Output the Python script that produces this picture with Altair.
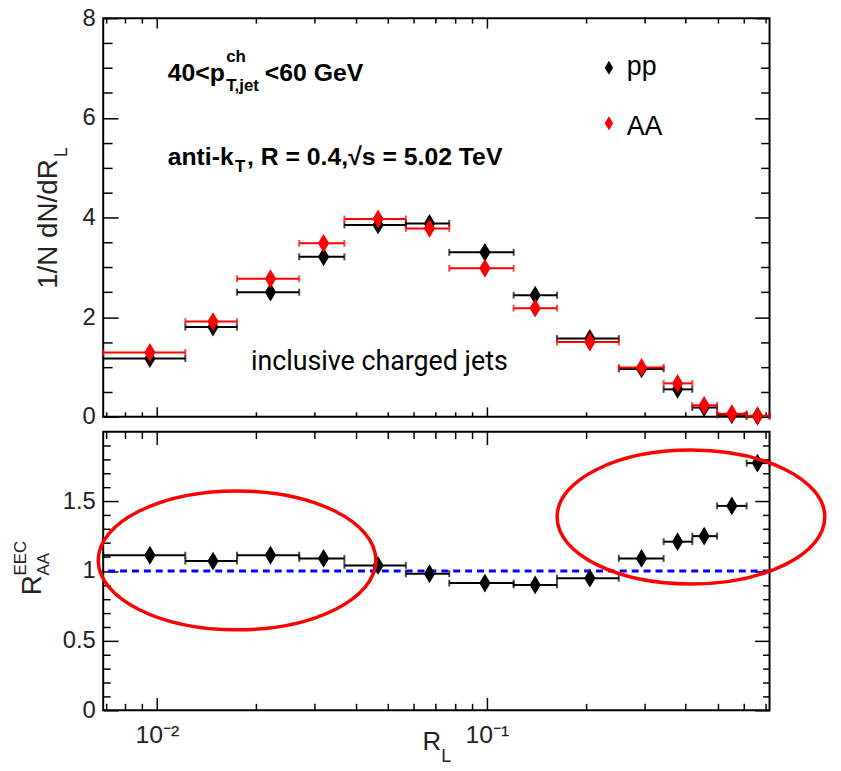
import altair as alt
import pandas as pd

# ---------------- values ----------------
bin_lo = [0.00688, 0.0122, 0.0175, 0.0270, 0.0370, 0.0568, 0.0769, 0.1205, 0.163, 0.251, 0.343, 0.419, 0.498, 0.612]
bin_hi = [0.0122, 0.0175, 0.0270, 0.0370, 0.0568, 0.0769, 0.1205, 0.163, 0.251, 0.343, 0.419, 0.498, 0.612, 0.718]
r_center = [0.00953, 0.0148, 0.0221, 0.0320, 0.0468, 0.0670, 0.0986, 0.140, 0.205, 0.294, 0.378, 0.455, 0.552, 0.660]
pp_vals = [1.17, 1.80, 2.50, 3.21, 3.85, 3.88, 3.30, 2.44, 1.57, 0.96, 0.55, 0.185, 0.04, 0.012]
aa_vals = [1.29, 1.91, 2.77, 3.48, 3.97, 3.78, 2.98, 2.18, 1.50, 0.99, 0.67, 0.23, 0.06, 0.021]
ratio_vals = [1.113, 1.071, 1.113, 1.09, 1.04, 0.98, 0.913, 0.90, 0.948, 1.09, 1.21, 1.25, 1.467, 1.774]

x_domain = [0.00688, 0.718]
x_major = [0.01, 0.1]
x_major_labels = ["10⁻²", "10⁻¹"]
x_minor = [0.007, 0.008, 0.009, 0.02, 0.03, 0.04, 0.05, 0.06, 0.07, 0.08, 0.09,
           0.2, 0.3, 0.4, 0.5, 0.6, 0.7]
y1_domain = [0, 8]
y1_major = [0, 2, 4, 6, 8]
y1_minor = [0.5, 1, 1.5, 2.5, 3, 3.5, 4.5, 5, 5.5, 6.5, 7, 7.5]
y2_domain = [0, 2]
y2_major = [0, 0.5, 1, 1.5]
y2_minor = [0.1, 0.2, 0.3, 0.4, 0.6, 0.7, 0.8, 0.9, 1.1, 1.2, 1.3, 1.4, 1.6, 1.7, 1.8, 1.9]
ref_line = [1.0]

# annotation ellipses: centre (data coords) and symbol area
ellipse_x = [0.0175, 0.415]
ellipse_y = [1.076, 1.387]
ellipse_area = [78400, 72900]

ann_line1 = ["40<p", "ch", "T,jet", "<60 GeV"]
ann_line2 = ["anti-k", "T", ", R = 0.4,√s = 5.02 TeV"]
legend_labels = ["pp", "AA"]
legend_colors = ["black", "#ff0000"]
inset_text = "inclusive charged jets"
ytitle_top = ["1/N dN/dR", "L"]
ytitle_bottom = ["R", "EEC", "AA"]
xtitle = ["R", "L"]

# ---------------- styling ----------------
FONT = "Liberation Sans"
W, H1, H2 = 672, 402, 281
DIAMOND = "M 0 -1 L 0.6 0 L 0 1 L -0.6 0 Z"
ELLIPSE = ("M 1 0 C 1 0.2761 0.5523 0.5 0 0.5 C -0.5523 0.5 -1 0.2761 -1 0 "
           "C -1 -0.2761 -0.5523 -0.5 0 -0.5 C 0.5523 -0.5 1 -0.2761 1 0 Z")

df = pd.DataFrame({"lo": bin_lo, "hi": bin_hi, "c": r_center,
                   "pp": pp_vals, "aa": aa_vals, "ratio": ratio_vals})

XS = alt.Scale(type="log", domain=x_domain, nice=False)
YS1 = alt.Scale(domain=y1_domain, nice=False, zero=False)
YS2 = alt.Scale(domain=y2_domain, nice=False, zero=False)


def tick_axis(orient, values, length):
    return alt.Axis(orient=orient, values=values, labels=False, domain=False, grid=False,
                    ticks=True, tickSize=alt.ExprRef(expr=str(-length)), tickColor="black",
                    tickWidth=1.5, title=None)


def label_axis(orient, values, size=24, **kw):
    return alt.Axis(orient=orient, values=values, labels=True, domain=False, grid=False,
                    ticks=False, title=None, labelFont=FONT, labelFontSize=size,
                    labelColor="#222", **kw)


def axis_layers(yfield, ys, y_major, y_minor, xlen, ylen, x_labels):
    base = alt.Chart(df)
    if x_labels:
        expr = (f"datum.value < {x_major[0] * 3} ? '{x_major_labels[0]}' : "
                f"'{x_major_labels[1]}'")
        xa0 = label_axis("bottom", x_major, size=25, labelExpr=expr, labelPadding=12)
    else:
        xa0 = None
    specs = [
        (xa0, label_axis("left", y_major, labelPadding=8, format="~g")),
        (tick_axis("bottom", x_major, xlen[0]), tick_axis("left", y_major, ylen[0])),
        (tick_axis("bottom", x_minor, xlen[1]), tick_axis("left", y_minor, ylen[1])),
        (tick_axis("top", x_major, xlen[0]), tick_axis("right", y_major, ylen[0])),
        (tick_axis("top", x_minor, xlen[1]), tick_axis("right", y_minor, ylen[1])),
    ]
    out = []
    for xa, ya in specs:
        out.append(base.mark_point(opacity=0).encode(
            x=alt.X("c:Q", scale=XS, axis=xa),
            y=alt.Y(f"{yfield}:Q", scale=ys, axis=ya)))
    return out


def series(yfield, ys, color):
    base = alt.Chart(df)
    ey = alt.Y(f"{yfield}:Q", scale=ys, axis=None)
    rule = base.mark_rule(color=color, strokeWidth=2).encode(
        x=alt.X("lo:Q", scale=XS, axis=None), x2="hi:Q", y=ey)
    capl = base.mark_tick(orient="vertical", color=color, size=7, thickness=2).encode(
        x=alt.X("lo:Q", scale=XS, axis=None), y=ey)
    capr = base.mark_tick(orient="vertical", color=color, size=7, thickness=2).encode(
        x=alt.X("hi:Q", scale=XS, axis=None), y=ey)
    pts = base.mark_point(shape=DIAMOND, size=361, filled=True, color=color,
                          opacity=1).encode(
        x=alt.X("c:Q", scale=XS, axis=None), y=ey)
    return [rule, capl, capr, pts]


def txt(s, x, y, size, weight="normal", font=FONT, angle=0, color="black"):
    return alt.Chart(pd.DataFrame({"t": [s]})).mark_text(
        font=font, fontSize=size, fontWeight=weight, angle=angle, color=color,
        align="left", baseline="alphabetic").encode(
        x=alt.value(x), y=alt.value(y), text="t:N")


def sym(x, y, color, size):
    return alt.Chart(pd.DataFrame({"t": [0]})).mark_point(
        shape=DIAMOND, size=size, filled=True, color=color, opacity=1).encode(
        x=alt.value(x), y=alt.value(y))


# ---------------- top panel ----------------
top_layers = axis_layers("pp", YS1, y1_major, y1_minor, (10, 5), (15, 9), False)
top_layers += series("pp", YS1, "black")
top_layers += series("aa", YS1, "#ff0000")
top_layers += [
    txt(ann_line1[0], 65, 63, 25, "bold"),
    txt(ann_line1[1], 124, 44, 17, "bold"),
    txt(ann_line1[2], 124, 73, 17, "bold"),
    txt(ann_line1[3], 163, 63, 25, "bold"),
    txt(ann_line2[0], 65, 148, 25, "bold"),
    txt(ann_line2[1], 133, 155, 17, "bold"),
    txt(ann_line2[2], 145, 148, 25, "bold"),
    sym(510, 50, legend_colors[0], 200),
    txt(legend_labels[0], 528, 57, 27),
    sym(510, 106, legend_colors[1], 200),
    txt(legend_labels[1], 528, 118, 27),
    txt(inset_text, 149, 355, 27, font="Roboto"),
    txt(ytitle_top[0], -47, 273, 28, angle=270, color="#222"),
    txt(ytitle_top[1], -37, 140, 18, angle=270, color="#222"),
]
top = alt.layer(*top_layers).resolve_axis(x="independent", y="independent").properties(
    width=W, height=H1)

# ---------------- bottom panel ----------------
bot_layers = axis_layers("ratio", YS2, y2_major, y2_minor, (13, 7), (15, 7), True)
bot_layers += [
    alt.Chart(pd.DataFrame({"v": ref_line})).mark_rule(
        color="#0000ff", strokeWidth=3, strokeDash=[7, 5]).encode(
        y=alt.Y("v:Q", scale=YS2, axis=None)),
]
bot_layers += series("ratio", YS2, "black")
bot_layers += [
    alt.Chart(pd.DataFrame({"x": ellipse_x, "y": ellipse_y, "s": ellipse_area})).mark_point(
        shape=ELLIPSE, filled=False, color="#ff0000", strokeWidth=3.5,
        opacity=1).encode(
        x=alt.X("x:Q", scale=XS, axis=None), y=alt.Y("y:Q", scale=YS2, axis=None),
        size=alt.Size("s:Q", scale=None, legend=None)),
    txt(ytitle_bottom[0], -63, 165, 28, angle=270, color="#222"),
    txt(ytitle_bottom[1], -78, 145, 17, angle=270, color="#222"),
    txt(ytitle_bottom[2], -55, 145, 17, angle=270, color="#222"),
    txt(xtitle[0], 322, 321, 26, color="#222"),
    txt(xtitle[1], 341, 333, 18, color="#222"),
]
bottom = alt.layer(*bot_layers).resolve_axis(x="independent", y="independent").properties(
    width=W, height=H2)

chart = alt.vconcat(top, bottom, spacing=0).properties(
    padding={"left": 3, "top": -6, "right": 0, "bottom": 0}
).configure_view(stroke="black", strokeWidth=2)

chart.save("out.html", embed_options={"renderer": "svg", "actions": False})
